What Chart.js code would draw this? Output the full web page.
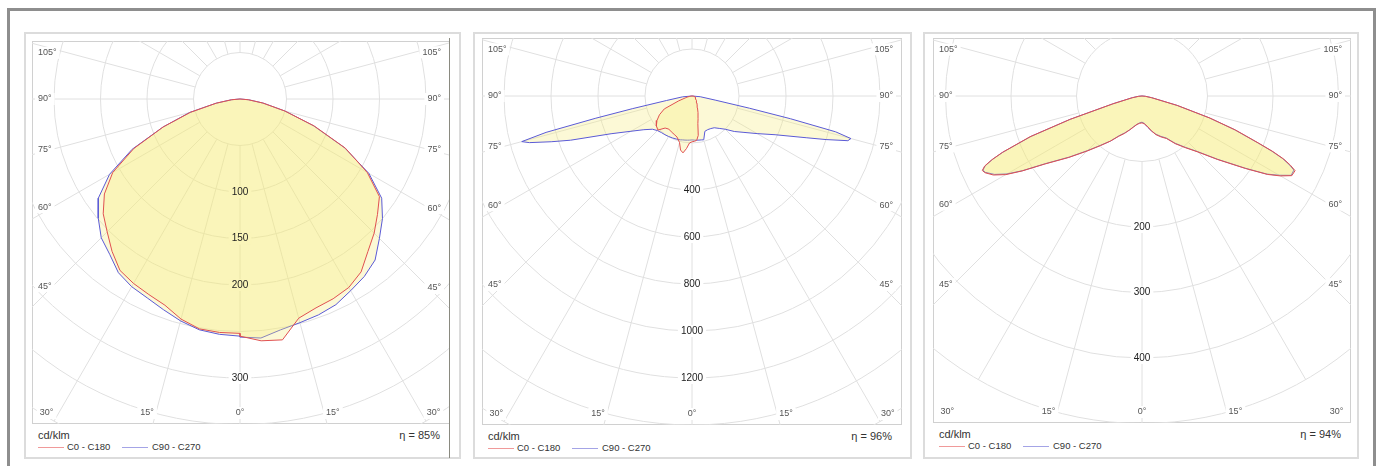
<!DOCTYPE html>
<html lang="en">
<head>
<meta charset="UTF-8">
<title>Polar intensity curves</title>
<style>
  body { margin: 0; background: #fff; font-family: "Liberation Sans", Arial, sans-serif; }
  .frame { position: absolute; left: 7px; top: 8px; width: 1363px; height: 470px; border: 3px solid #8e8e8e; }
  .box { position: absolute; border: 2px solid #dcdcdc; box-sizing: border-box; }
  .plot { position: absolute; border: 1px solid #d0d0d0; box-sizing: border-box; }
  canvas { position: absolute; }
  .txt { position: absolute; font-size: 11px; line-height: 12px; color: #333; white-space: nowrap; }
  .leg { font-size: 9.5px; }
  .key { position: absolute; height: 1px; width: 26px; }
</style>
</head>
<body>
<div class="frame"></div>
<script src="https://cdn.jsdelivr.net/npm/chart.js@4.4.1/dist/chart.umd.min.js"></script>
<script>
  // angle ticks written round the edge of each diagram
  const angleTicks = [0, 15, 30, 45, 60, 75, 90, 105];

  // panel 1, cd/klm per gamma angle (0 = straight down)
  const p1Angles = [0, 5, 10, 15, 20, 25, 30, 35, 40, 45, 50, 55, 60, 65, 70, 75, 80, 85, 90];
  const p1C0   = [255, 261, 263, 244, 239, 237, 234, 227, 214, 204, 193, 183, 158, 125, 85, 50, 25, 9, 0];
  const p1C180 = [252, 252, 251, 245, 236, 232, 229, 225, 214, 202, 192, 178, 158, 126, 88, 55, 26, 9, 0];
  const p1C90  = [256, 258, 252, 249, 247, 244, 238, 233, 226, 212, 200, 186, 160, 124, 84, 50, 25, 9, 0];
  const p1C270 = [255, 254, 252, 247, 241, 236, 233, 228, 218, 211, 199, 186, 162, 128, 88, 56, 26, 9, 0];
  const p1Rings = [50, 100, 150, 200, 250, 300, 350, 400];
  const p1RingLabels = [100, 150, 200, 300];
  const p1Eta = 'η = 85%';

  // panel 2
  const p2Angles = [0, 3, 6, 9, 12, 15, 20, 25, 30, 35, 40, 45, 50, 55, 60, 65, 70, 72, 74, 75, 76, 77, 78, 80, 85, 90];
  const p2C0   = [195, 193, 190, 170, 120, 100, 75, 55, 44, 36, 30, 26, 22, 20, 18, 16, 14, 13, 12, 12, 11, 11, 10, 9, 5, 0];
  const p2C180 = [195, 200, 225, 245, 235, 205, 186, 180, 176, 172, 178, 205, 198, 182, 160, 130, 60, 40, 30, 25, 22, 20, 18, 12, 5, 0];
  const p2C90  = [187, 188, 189, 190, 191, 193, 160, 158, 160, 165, 180, 200, 235, 270, 320, 390, 520, 600, 690, 700, 630, 430, 250, 100, 35, 0];
  const p2C270 = [187, 188, 189, 190, 191, 193, 195, 197, 199, 201, 203, 208, 220, 250, 300, 380, 550, 630, 720, 750, 640, 420, 260, 110, 40, 0];
  const p2Rings = [200, 400, 600, 800, 1000, 1200, 1400, 1600];
  const p2RingLabels = [400, 600, 800, 1000, 1200];
  const p2Eta = 'η = 96%';

  // panel 3
  const p3Angles = [0, 5, 10, 15, 20, 25, 30, 35, 40, 45, 50, 55, 58, 60, 62, 64, 65, 66, 67, 68, 70, 72, 75, 80, 85, 90];
  const p3C0   = [41, 43, 47, 55, 63, 69, 75, 89, 103, 121, 151, 193, 226, 244, 259, 260, 250, 237, 217, 192, 152, 109, 56, 15, 5, 0];
  const p3C180 = [41, 42, 44, 49, 55, 63, 71, 84, 99, 119, 146, 181, 216, 240, 257, 267, 269, 263, 249, 230, 182, 116, 46, 15, 5, 0];
  const p3C90  = [40, 42, 48, 55, 62, 68, 74, 88, 102, 120, 150, 192, 225, 242, 258, 258, 248, 235, 215, 190, 150, 108, 55, 15, 5, 0];
  const p3C270 = [40, 41, 44, 48, 55, 62, 70, 84, 98, 118, 145, 180, 215, 238, 255, 266, 268, 262, 248, 229, 180, 115, 45, 15, 5, 0];
  const p3Rings = [100, 200, 300, 400, 500];
  const p3RingLabels = [200, 300, 400];
  const p3Eta = 'η = 94%';

  const seriesNames = ['C0 - C180', 'C90 - C270'];
  const unitLabel = 'cd/klm';

  // layout of the three panels (page pixels); cx/cy = pole inside the plot, k = px per cd/klm
  const panels = [
    { box: [24, 32, 437, 427], left: 32, top: 41, width: 418, height: 383, cx: 208, cy: 58, k: 0.93,
      angles: p1Angles, c0: p1C0, c180: p1C180, c90: p1C90, c270: p1C270, rings: p1Rings, ringLabels: p1RingLabels, eta: p1Eta },
    { box: [473, 32, 439, 427], left: 482, top: 38, width: 420, height: 387, cx: 210, cy: 58, k: 0.235,
      angles: p2Angles, c0: p2C0, c180: p2C180, c90: p2C90, c270: p2C270, rings: p2Rings, ringLabels: p2RingLabels, eta: p2Eta },
    { box: [923, 32, 436, 427], left: 933, top: 38, width: 418, height: 385, cx: 209, cy: 58, k: 0.655,
      angles: p3Angles, c0: p3C0, c180: p3C180, c90: p3C90, c270: p3C270, rings: p3Rings, ringLabels: p3RingLabels, eta: p3Eta }
  ];

  const RED = '#e05050', BLUE = '#5a5ad6';
  const FILL = 'rgba(245, 235, 120, 0.3)';

  function polar(deg, v) {
    const t = deg * Math.PI / 180;
    return { x: v * Math.sin(t), y: -v * Math.cos(t) };
  }

  // closed curve: left half (negative angles) from 90 down to 0, then right half back up to 90
  function loop(angles, left, right) {
    const pts = [];
    for (let i = angles.length - 1; i >= 0; i--) pts.push(polar(-angles[i], left[i]));
    for (let i = 0; i < angles.length; i++) pts.push(polar(angles[i], right[i]));
    return pts;
  }

  function labelList(chart, o) {
    const { ctx, chartArea: a, scales: { x, y } } = chart;
    const cx = x.getPixelForValue(0), cy = y.getPixelForValue(0);
    const out = [];
    o.ringLabels.forEach(v => {
      out.push({ text: String(v), x: cx, y: cy + (x.getPixelForValue(v) - cx), align: 'center', font: '10px "Liberation Sans", Arial', color: '#222' });
    });
    angleTicks.forEach(d => {
      const t = d * Math.PI / 180, s = Math.sin(t), c = Math.cos(t);
      const f = '9px "Liberation Sans", Arial', col = '#555';
      if (d === 0) {
        out.push({ text: '0°', x: cx, y: a.bottom - 11, align: 'center', font: f, color: col });
        return;
      }
      [-1, 1].forEach(side => {
        const edge = side < 0 ? cx - a.left : a.right - cx;
        const dyEdge = edge * c / s;
        if (dyEdge < a.bottom - cy) {
          out.push({ text: d + '°', x: side < 0 ? a.left + 6 : a.right - 9, y: cy + 0.9 * dyEdge + (c < 0 ? 4 : 0),
            align: side < 0 ? 'left' : 'right', font: f, color: col });
        } else {
          const xb = cx + side * (a.bottom - cy) * s / c;
          out.push({ text: d + '°', x: side < 0 ? xb + 1 : xb - 1, y: a.bottom - 11,
            align: side < 0 ? 'right' : 'left', font: f, color: col });
        }
      });
    });
    return out.map(l => {
      ctx.font = l.font;
      l.w = ctx.measureText(l.text).width;
      l.x0 = l.align === 'left' ? l.x : l.align === 'right' ? l.x - l.w : l.x - l.w / 2;
      return l;
    });
  }

  const polarGrid = {
    id: 'polarGrid',
    beforeDatasetsDraw(chart, args, o) {
      const { ctx, chartArea: a, scales: { x, y } } = chart;
      const cx = x.getPixelForValue(0), cy = y.getPixelForValue(0);
      const rad = v => x.getPixelForValue(v) - cx;
      ctx.save();
      ctx.beginPath();
      ctx.rect(a.left, a.top, a.width, a.height);
      ctx.clip();
      ctx.strokeStyle = '#e0e0e0';
      ctx.lineWidth = 1;
      o.rings.forEach(v => {
        ctx.beginPath();
        ctx.arc(cx, cy, rad(v), 0, Math.PI * 2);
        ctx.stroke();
      });
      const r0 = rad(o.rings[0]), r1 = rad(o.rings[o.rings.length - 1]);
      for (let d = 0; d < 360; d += 15) {
        const t = d * Math.PI / 180, s = Math.sin(t), c = Math.cos(t);
        ctx.beginPath();
        ctx.moveTo(cx + r0 * s, cy + r0 * c);
        ctx.lineTo(cx + r1 * s, cy + r1 * c);
        ctx.stroke();
      }
      ctx.fillStyle = '#fff';
      labelList(chart, o).forEach(l => ctx.fillRect(l.x0 - 3, l.y - 6, l.w + 6, 12));
      ctx.restore();
    },
    afterDatasetsDraw(chart, args, o) {
      const { ctx } = chart;
      ctx.save();
      ctx.textBaseline = 'middle';
      ctx.textAlign = 'left';
      labelList(chart, o).forEach(l => {
        ctx.font = l.font;
        ctx.fillStyle = l.color;
        ctx.fillText(l.text, l.x0, l.y);
      });
      ctx.restore();
    }
  };

  function el(cls, css, text) {
    const d = document.createElement(cls === 'canvas' ? 'canvas' : 'div');
    if (cls !== 'canvas') d.className = cls;
    Object.assign(d.style, css);
    if (text) d.textContent = text;
    document.body.appendChild(d);
    return d;
  }

  panels.forEach(p => {
    el('box', { left: p.box[0] + 'px', top: p.box[1] + 'px', width: p.box[2] + 'px', height: p.box[3] + 'px' });
    el('plot', { left: p.left + 'px', top: p.top + 'px', width: p.width + 'px', height: p.height + 'px' });

    const cv = el('canvas', { left: p.left + 'px', top: p.top + 'px' });
    cv.width = p.width;
    cv.height = p.height;

    const bottom = p.top + p.height;
    el('txt', { left: p.left + 6 + 'px', top: bottom + 5 + 'px' }, unitLabel);
    el('txt', { left: p.left + p.width - 110 + 'px', top: bottom + 5 + 'px', width: '100px', textAlign: 'right' }, p.eta);
    el('key', { left: p.left + 6 + 'px', top: bottom + 23 + 'px', background: '#f09a9a' });
    el('txt leg', { left: p.left + 35 + 'px', top: bottom + 17 + 'px' }, seriesNames[0]);
    el('key', { left: p.left + 90 + 'px', top: bottom + 23 + 'px', background: '#a4a4e6' });
    el('txt leg', { left: p.left + 120 + 'px', top: bottom + 17 + 'px' }, seriesNames[1]);

    new Chart(cv, {
      type: 'line',
      data: {
        datasets: [
          { label: seriesNames[0], data: loop(p.angles, p.c180, p.c0), borderColor: RED },
          { label: seriesNames[1], data: loop(p.angles, p.c270, p.c90), borderColor: BLUE }
        ].map(ds => Object.assign(ds, { fill: 'shape', backgroundColor: FILL, borderWidth: 1, pointRadius: 0, tension: 0 }))
      },
      options: {
        responsive: false,
        animation: false,
        layout: { padding: 0 },
        scales: {
          x: { type: 'linear', display: false, min: -p.cx / p.k, max: (p.width - p.cx) / p.k },
          y: { type: 'linear', display: false, min: -(p.height - p.cy) / p.k, max: p.cy / p.k }
        },
        plugins: {
          legend: { display: false },
          tooltip: { enabled: false },
          polarGrid: { rings: p.rings, ringLabels: p.ringLabels }
        }
      },
      plugins: [polarGrid]
    });
  });

  // dark edge seen at the right of the first plot
  el('plot', { left: '449px', top: '38px', width: '1px', height: '420px', border: 'none', background: '#8a8a80' });
</script>
</body>
</html>
